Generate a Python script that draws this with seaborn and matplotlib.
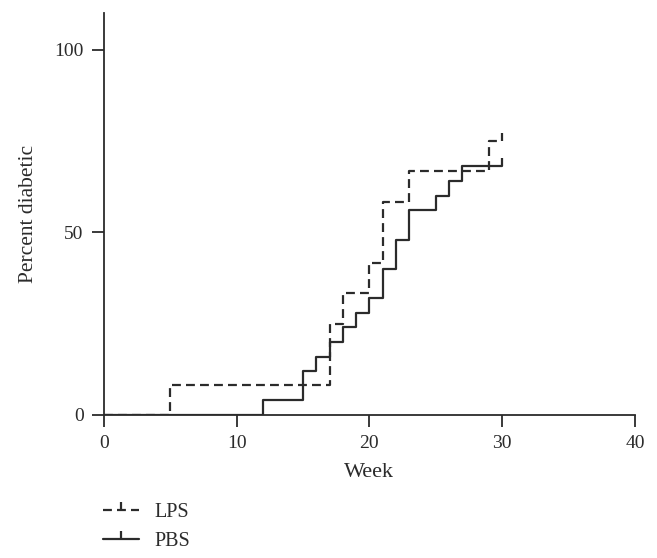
import numpy as np
import pandas as pd
import matplotlib
matplotlib.use("Agg")
import matplotlib.pyplot as plt
from matplotlib.lines import Line2D
import seaborn as sns

# Kaplan-Meier style cumulative incidence
lps_weeks = [0, 5, 17, 18, 20, 21, 23, 29, 30]
lps_pct = [0, 8.3, 25, 33.3, 41.7, 58.3, 66.7, 75, 75]
pbs_weeks = [0, 12, 15, 16, 17, 18, 19, 20, 21, 22, 23, 25, 26, 27, 30]
pbs_pct = [0, 4, 12, 16, 20, 24, 28, 32, 40, 48, 56, 60, 64, 68, 68]
# censored observations (end of follow-up)
lps_cens_week, lps_cens_pct = [30], [75]
pbs_cens_week, pbs_cens_pct = [30], [68]

df = pd.concat([
    pd.DataFrame({"Week": lps_weeks, "Percent": lps_pct, "group": "LPS"}),
    pd.DataFrame({"Week": pbs_weeks, "Percent": pbs_pct, "group": "PBS"}),
])

sns.set_style("ticks")
plt.rcParams['font.family'] = ['Liberation Serif', 'DejaVu Serif']
ink = "#2b2b2b"

fig = plt.figure(figsize=(6.57, 5.58), dpi=100)
ax = fig.add_axes([0.158, 0.2563, 0.8085, 0.7204])

sns.lineplot(data=df, x="Week", y="Percent", style="group",
             dashes={"LPS": (4, 2.3), "PBS": ""}, color=ink,
             drawstyle="steps-post", estimator=None, lw=1.6,
             legend=False, ax=ax)
ax.plot(lps_cens_week, lps_cens_pct, ls="none", marker=2, ms=6, mew=1.6, color=ink)
ax.plot(pbs_cens_week, pbs_cens_pct, ls="none", marker=2, ms=6, mew=1.6, color=ink)

ax.set_xlim(0, 40)
ax.set_ylim(0, 110)
ax.set_xticks([0, 10, 20, 30, 40])
ax.set_yticks([0, 50, 100])
sns.despine(ax=ax)
for s in ["left", "bottom"]:
    ax.spines[s].set_linewidth(1.3)
    ax.spines[s].set_color(ink)
ax.tick_params(axis="both", direction="out", length=8.5, width=1.3,
               color=ink, labelcolor=ink, labelsize=14, pad=6)
ax.set_xlabel("Week", fontsize=16, color=ink, labelpad=8)
ax.set_ylabel("Percent diabetic", fontsize=15.5, color=ink, labelpad=12)

handles = [
    Line2D([0], [0], color=ink, lw=1.6, dashes=(4, 2.3), marker=2, ms=6, mew=1.6),
    Line2D([0], [0], color=ink, lw=1.6, marker=2, ms=6, mew=1.6),
]
fig.legend(handles, ["LPS", "PBS"], loc="upper left",
           bbox_to_anchor=(0.157, 0.099), frameon=False, fontsize=14.5,
           handlelength=1.8, handletextpad=0.75, labelspacing=0.5,
           borderpad=0, borderaxespad=0, numpoints=1, labelcolor=ink)

fig.savefig("out.png", dpi=100)
